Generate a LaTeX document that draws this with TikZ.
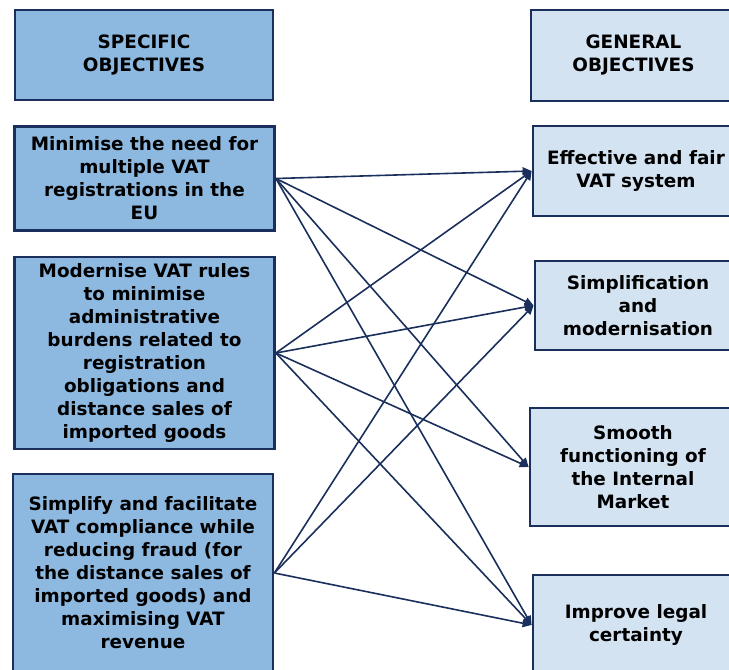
\documentclass[tikz,border=0pt]{standalone}
\usepackage{fontspec}
\setmainfont{DejaVu Sans}
\usetikzlibrary{positioning, arrows.meta}
\definecolor{objnavy}{HTML}{1B2F5C}
\definecolor{specblue}{HTML}{8DB9E1}
\definecolor{genblue}{HTML}{D3E3F2}

\begin{document}
\begin{tikzpicture}[x=1pt,y=-1pt,
    objbox/.style={rectangle,draw=objnavy,line width=2.8pt,align=center,
      font=\fontsize{18.4}{23}\selectfont\bfseries,inner sep=0pt}]
          \useasboundingbox (0,0) rectangle (729,670);
          \clip (0,0) rectangle (729,670);
          \begin{scope}[every node/.style={objbox,fill=specblue,minimum width=260pt}]
            \node (sh) [minimum width=258pt,minimum height=90pt] at (144, 55) {SPECIFIC\\OBJECTIVES};
            \node (s1) [minimum height=104pt] at (144.5, 178.5) {Minimise the need for\\multiple VAT\\registrations in the\\EU};
            \node (s2) [minimum height=192pt] at (144.5, 353) {Modernise VAT rules\\to minimise\\administrative\\burdens related to\\registration\\obligations and\\distance sales of\\imported goods};
            \node (s3) [minimum height=198pt] at (143, 573) {Simplify and facilitate\\VAT compliance while\\reducing fraud (for\\the distance sales of\\imported goods) and\\maximising VAT\\revenue};
          \end{scope}
          \begin{scope}[every node/.style={objbox,fill=genblue,minimum width=206pt}]
            \node (gh) [minimum width=205pt,minimum height=91pt] at (633.5, 55.5) {GENERAL\\OBJECTIVES};
            \node (g1) [minimum height=90pt] at (636, 171) {Effective and fair\\VAT system};
            \node (g2) [minimum height=89pt] at (638, 305.5) {Simplification\\and\\modernisation};
            \node (g3) [minimum height=118pt] at (633, 467) {Smooth\\functioning of\\the Internal\\Market};
            \node (g4) [minimum height=100pt] at (636, 625) {Improve legal\\certainty};
          \end{scope}
          \begin{scope}[draw=objnavy,line width=1.6pt,-{Triangle[length=9pt,width=8pt]}]
            \path (s1.east) edge (g1.west);
            \path (s1.east) edge (g2.west);
            \path (s1.east) edge (g3.west);
            \path (s1.east) edge (g4.west);
            \path (s2.east) edge (g1.west);
            \path (s2.east) edge (g2.west);
            \path (s2.east) edge (g3.west);
            \path (s2.east) edge (g4.west);
            \path (s3.east) edge (g1.west);
            \path (s3.east) edge (g2.west);
            \path (s3.east) edge (g4.west);
          \end{scope}
        \end{tikzpicture}
\end{document}
